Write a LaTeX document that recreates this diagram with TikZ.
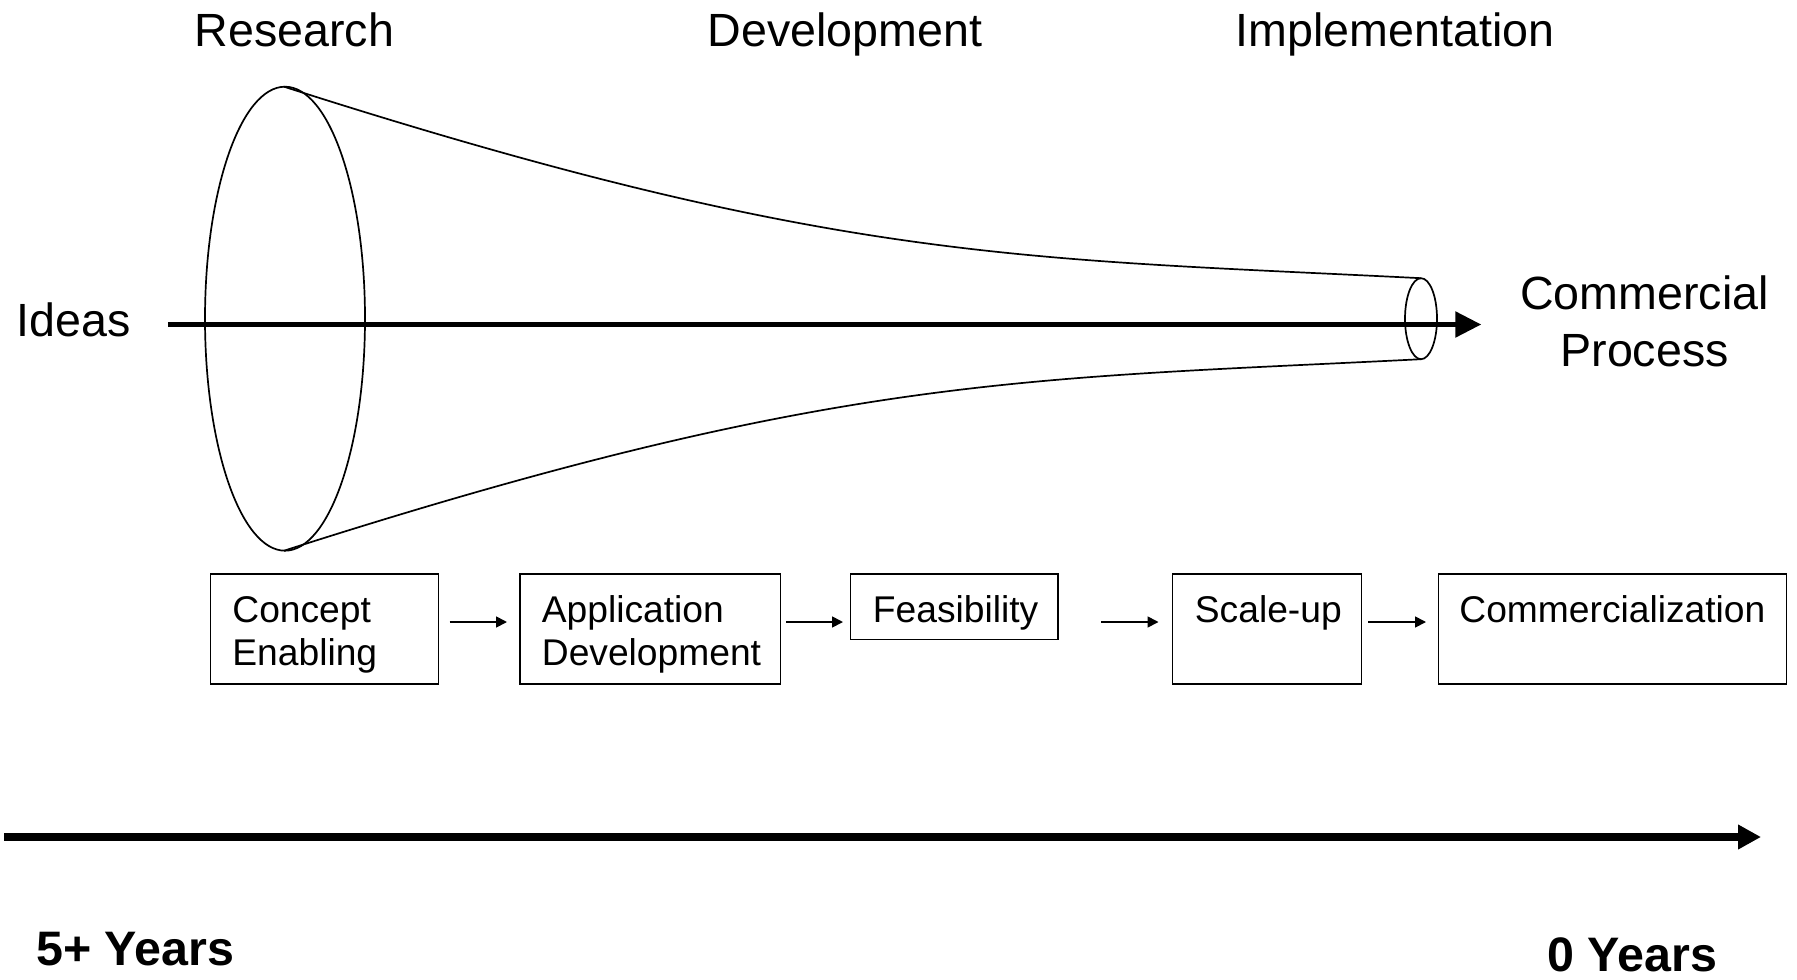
\documentclass[tikz,border=0pt]{standalone}
\usepackage{fontspec}
\setmainfont{Liberation Sans}
\usetikzlibrary{arrows.meta,calc}
\begin{document}
\begin{tikzpicture}[x=0.5pt,y=-0.5pt,
  thinline/.style={line width=0.85pt},
  stage/.style={draw, line width=0.85pt, inner sep=0pt, outer sep=0pt, anchor=north west},
  boxtext/.style={inner sep=0pt, anchor=base west, align=left, font=\fontsize{18.6}{21.75}\selectfont},
  bigtext/.style={inner sep=0pt, font=\fontsize{23.3}{28.5}\selectfont},
  boldtext/.style={inner sep=0pt, anchor=base west, font=\fontsize{24.2}{28}\selectfont\bfseries},
  smallarrow/.style={line width=0.85pt, -{Triangle[length=5.5pt,width=5.5pt]}},
  mainarrow/.style={line width=2.6pt, -{Triangle[length=13pt,width=12.5pt]}},
  timearrow/.style={line width=4pt, -{Triangle[length=11.5pt,width=11.7pt]}}]
\useasboundingbox (0,0) rectangle (1797,979);

% phase labels
\node[bigtext, anchor=base] (research) at (294.5,47) {Research};
\node[bigtext, anchor=base] (development) at (845,47) {Development};
\node[bigtext, anchor=base] (implementation) at (1395,47) {Implementation};

% funnel
\draw[thinline] (285,318.7) ellipse [x radius=80, y radius=232];
\draw[thinline] (1421,318.7) ellipse [x radius=16, y radius=40.5];
\draw[thinline] (284,86.7) .. controls (834,263) and (1021,258) .. (1421,278.2);
\draw[thinline] (284,550.7) .. controls (834,374.4) and (1021,379.4) .. (1421,359.2);

% ideas -> commercial process
\node[bigtext, anchor=base west] (ideas) at (16,336) {Ideas};
\node[bigtext, anchor=base, align=center] (commercial) at (1644.6,366) {Commercial\\Process};
\coordinate (axis) at (0,324.5);
\draw[mainarrow, shorten <=18.5pt, shorten >=19.3pt] (ideas.east |- axis) -- (commercial.west |- axis);

% stage boxes
\node[stage, minimum width=114pt, minimum height=55pt] (b1) at (210.5,574) {};
\node[stage, minimum width=130.25pt, minimum height=55pt] (b2) at (520,574) {};
\node[stage, minimum width=103.75pt, minimum height=32.75pt] (b3) at (850.5,574) {};
\node[stage, minimum width=94.5pt, minimum height=55pt] (b4) at (1172.5,574) {};
\node[stage, minimum width=174pt, minimum height=55pt] (b5) at (1438.5,574) {};

\node[boxtext] (t1) at ([shift={(21.5,91.5)}]b1.north west) {Concept\\Enabling};
\node[boxtext] (t2) at ([shift={(21.5,91.5)}]b2.north west) {Application\\Development};
\node[boxtext] (t3) at ([shift={(22,48)}]b3.north west) {Feasibility};
\node[boxtext] (t4) at ([shift={(22,48)}]b4.north west) {Scale-up};
\node[boxtext] (t5) at ([shift={(20.5,48)}]b5.north west) {Commercialization};

\draw[smallarrow] ($(b1.east)+(11,-7)$) -- ($(b2.west)+(-13,-7)$);
\draw[smallarrow] ($(b2.east)+(5.5,-7)$) -- ($(b3.west |- b2.west)+(-7.5,-7)$);
\draw[smallarrow] ($(b3.east |- b4.west)+(43,-7)$) -- ($(b4.west)+(-14,-7)$);
\draw[smallarrow] ($(b4.east)+(6.5,-7)$) -- ($(b5.west)+(-12.5,-7)$);

% timeline
\coordinate (tstart) at (4,837);
\coordinate (tend) at (1761,837);
\draw[timearrow] (tstart) -- (tend);
\node[boldtext] (five) at (36,965) {5+ Years};
\node[boldtext] (zero) at (1547,971) {0 Years};
\end{tikzpicture}
\end{document}
